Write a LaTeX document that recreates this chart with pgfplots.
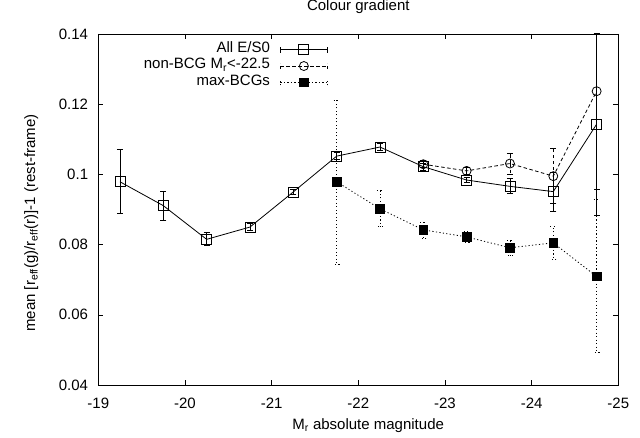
\documentclass[border=0pt]{standalone}
\usepackage{fontspec}
\setmainfont{Liberation Sans}
\usepackage{pgfplots}
\usepackage{pgfplotstable}
\pgfplotsset{compat=1.18}

\pgfplotstableread{
x y ep em
-19.25 0.0979 0.0092 0.0090
-19.75 0.0911 0.0042 0.0041
-20.25 0.0815 0.0021 0.0018
-20.75 0.0850 0.0010 0.0010
-21.25 0.0950 0.0008 0.0008
-21.75 0.1052 0.0010 0.0010
-22.25 0.1078 0.0010 0.0010
-22.75 0.1022 0.0010 0.0010
-23.25 0.0984 0.0008 0.0008
-23.75 0.0966 0.0022 0.0021
-24.25 0.0951 0.0055 0.0056
-24.75 0.1143 0.0260 0.0260
}\allES

\pgfplotstableread{
x y ep em
-22.75 0.1029 0.0010 0.0010
-23.25 0.1010 0.0009 0.0009
-23.75 0.1031 0.0030 0.0030
-24.25 0.0995 0.0078 0.0077
-24.75 0.1237 0.0280 0.0280
}\nonBCG

\pgfplotstableread{
x y ep em
-21.75 0.0979 0.0233 0.0236
-22.25 0.0902 0.0052 0.0050
-22.75 0.0842 0.0022 0.0023
-23.25 0.0822 0.0016 0.0017
-23.75 0.0791 0.0020 0.0021
-24.25 0.0805 0.0047 0.0048
-24.75 0.0709 0.0220 0.0217
}\maxBCG

\begin{document}
\fontsize{15}{18}\selectfont
\begin{tikzpicture}[font=\fontsize{15}{18}\selectfont]
\begin{axis}[
  name=a,
  scale only axis,
  width=520pt, height=351pt,
  x dir=reverse,
  xmin=-25, xmax=-19,
  ymin=0.04, ymax=0.14,
  xtick={-25,-24,-23,-22,-21,-20,-19},
  xticklabels={-25,-24,-23,-22,-21,-20,-19},
  ytick={0.04,0.06,0.08,0.1,0.12,0.14},
  yticklabels={0.04,0.06,0.08,0.1,0.12,0.14},
  tick align=inside,
  major tick length=5pt,
  axis line style={line width=0.8pt},
  every tick/.style={black, line width=0.6pt},
  x tick label style={anchor=base, inner sep=0pt, yshift=-23pt},
  y tick label style={anchor=east, inner sep=0pt, xshift=-10pt},
  title={Colour gradient},
  title style={at={(axis description cs:0.5,1.049)}, anchor=base, inner sep=0pt},
  xlabel={M\textsubscript{r} absolute magnitude},
  xlabel style={at={(axis description cs:0.519,-0.126)}, anchor=base, inner sep=0pt},
  ylabel={mean [r\textsubscript{eff}(g)/r\textsubscript{eff}(r)]-1 (rest-frame)},
  ylabel style={at={(axis description cs:-0.129,0.4615)}, anchor=center, inner sep=0pt},
  legend plot pos=right,
  legend cell align=right,
  legend style={at={(axis description cs:0.4417,0.979)}, anchor=north east,
    draw=none, fill=none, inner sep=0pt, row sep=0pt, column sep=10pt,
    nodes={inner sep=0pt, text height=11pt, text depth=5.3pt}},
  legend image code/.code={
    \draw[#1, mark=none] (0pt,0pt) -- (47pt,0pt);
    \draw[#1, mark=none] (0pt,-3pt) -- (0pt,3pt) (47pt,-3pt) -- (47pt,3pt);
    \draw[#1, only marks] plot coordinates {(23.5pt,0pt)};
  },
]
\addplot[black, solid, line width=0.8pt, mark=square, mark size=5pt,
  mark options={solid, line width=0.8pt},
  error bars/.cd, y dir=both, y explicit,
  error bar style={solid, line width=0.8pt},
  error mark options={rotate=90, mark size=3pt, solid, line width=0.8pt}]
  table[x=x, y=y, y error plus=ep, y error minus=em] {\allES};
\addlegendentry{All E/S0}
\addplot[black, line width=0.8pt, dash pattern=on 3.5pt off 2.5pt, mark=o, mark size=4.5pt,
  mark options={solid, line width=0.8pt},
  error bars/.cd, y dir=both, y explicit,
  error bar style={line width=0.8pt, dash pattern=on 3.5pt off 2.5pt},
  error mark options={rotate=90, mark size=3pt, solid, line width=0.8pt}]
  table[x=x, y=y, y error plus=ep, y error minus=em] {\nonBCG};
\addlegendentry{non-BCG M\textsubscript{r}<-22.5}
\addplot[black, line width=0.8pt, dash pattern=on 1.2pt off 2.3pt, mark=square*, mark size=4.3pt,
  mark options={solid, line width=0.8pt, fill=black},
  error bars/.cd, y dir=both, y explicit,
  error bar style={line width=0.8pt, dash pattern=on 1.2pt off 2.3pt},
  error mark options={rotate=90, mark size=3pt, line width=0.8pt, dash pattern=on 1.2pt off 2.3pt}]
  table[x=x, y=y, y error plus=ep, y error minus=em] {\maxBCG};
\addlegendentry{max-BCGs}
\end{axis}
\pgfresetboundingbox
\path[use as bounding box] ([shift={(-98.3pt,-52pt)}]a.south west) rectangle ([shift={(21.7pt,34pt)}]a.north east);
\end{tikzpicture}
\end{document}
